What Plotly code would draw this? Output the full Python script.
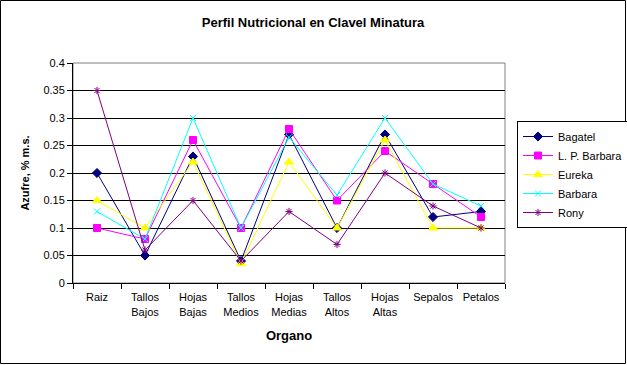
import plotly.graph_objects as go

categories = ["Raiz", "Tallos<br>Bajos", "Hojas<br>Bajas", "Tallos<br>Medios", "Hojas<br>Medias",
              "Tallos<br>Altos", "Hojas<br>Altas", "Sepalos", "Petalos"]
bagatel = [0.20, 0.05, 0.23, 0.04, 0.27, 0.10, 0.27, 0.12, 0.13]
lp_barbara = [0.10, 0.08, 0.26, 0.10, 0.28, 0.15, 0.24, 0.18, 0.12]
eureka = [0.15, 0.10, 0.22, 0.035, 0.22, 0.10, 0.26, 0.10, 0.10]
barbara = [0.13, 0.08, 0.30, 0.10, 0.265, 0.16, 0.30, 0.18, 0.14]
rony = [0.35, 0.06, 0.15, 0.04, 0.13, 0.07, 0.20, 0.14, 0.10]

series = [
    ("Bagatel", bagatel, "#000080", "diamond", 7),
    ("L. P. Barbara", lp_barbara, "#FF00FF", "square", 7),
    ("Eureka", eureka, "#FFFF00", "triangle-up", 8),
    ("Barbara", barbara, "#00FFFF", "x-thin-open", 6),
    ("Rony", rony, "#800080", "asterisk-open", 6),
]

W, H = 627, 365
L, R, T, B = 73, 122, 63, 82
pw, ph = W - L - R, H - T - B

fig = go.Figure()
for name, vals, col, sym, sz in series:
    fig.add_trace(go.Scatter(
        x=categories, y=vals, name=name, mode="lines+markers",
        line=dict(color=col, width=1),
        marker=dict(symbol=sym, size=sz, color=col, line=dict(color=col, width=1)),
    ))

font = "Liberation Sans, Arial, sans-serif"
fig.update_layout(
    width=W, height=H,
    margin=dict(l=L, r=R, t=T, b=B, autoexpand=False),
    paper_bgcolor="white", plot_bgcolor="white",
    font=dict(family=font, size=11, color="black"),
    title=dict(text="<b>Perfil Nutricional en Clavel Minatura</b>", x=(313) / W, xanchor="center",
               y=1 - 22 / H, yanchor="middle", font=dict(size=13, family=font)),
    xaxis=dict(
        type="category", tickson="boundaries", ticks="outside", ticklen=5, tickcolor="black",
        showline=True, linecolor="black", linewidth=1, showgrid=False, automargin=False,
        title=dict(text="<b>Organo</b>", font=dict(size=13), standoff=14),
        tickfont=dict(size=11), range=[-0.5, 8.5], ticklabelstandoff=4, tickangle=0,
    ),
    yaxis=dict(
        range=[0, 0.4], dtick=0.05, ticks="outside", ticklen=5, tickcolor="black",
        showline=True, linecolor="black", linewidth=1, showgrid=True, gridcolor="black", gridwidth=1,
        zeroline=False, automargin=False,
        title=dict(text="<b>Azufre, % m.s.</b>", font=dict(size=11), standoff=11),
        tickfont=dict(size=11),
    ),
    legend=dict(
        x=(517 - L) / pw, xanchor="left", y=(H - B - 121) / ph, yanchor="top",
        bordercolor="black", borderwidth=1, bgcolor="white",
        font=dict(size=11), tracegroupgap=0, itemwidth=30,
    ),
    shapes=[
        dict(type="rect", xref="paper", yref="paper", x0=0, x1=1, y0=0, y1=1,
             line=dict(color="#808080", width=1), layer="below"),
        dict(type="rect", xref="paper", yref="paper",
             x0=-(L - 0.5) / pw, x1=1 + (R - 1.5) / pw, y0=-(B - 1.5) / ph, y1=1 + (T - 0.5) / ph,
             line=dict(color="black", width=1)),
    ],
)

fig.write_html("out.html", config={"displayModeBar": False},
               post_script="document.body.style.margin='0';document.body.style.overflow='hidden';")
